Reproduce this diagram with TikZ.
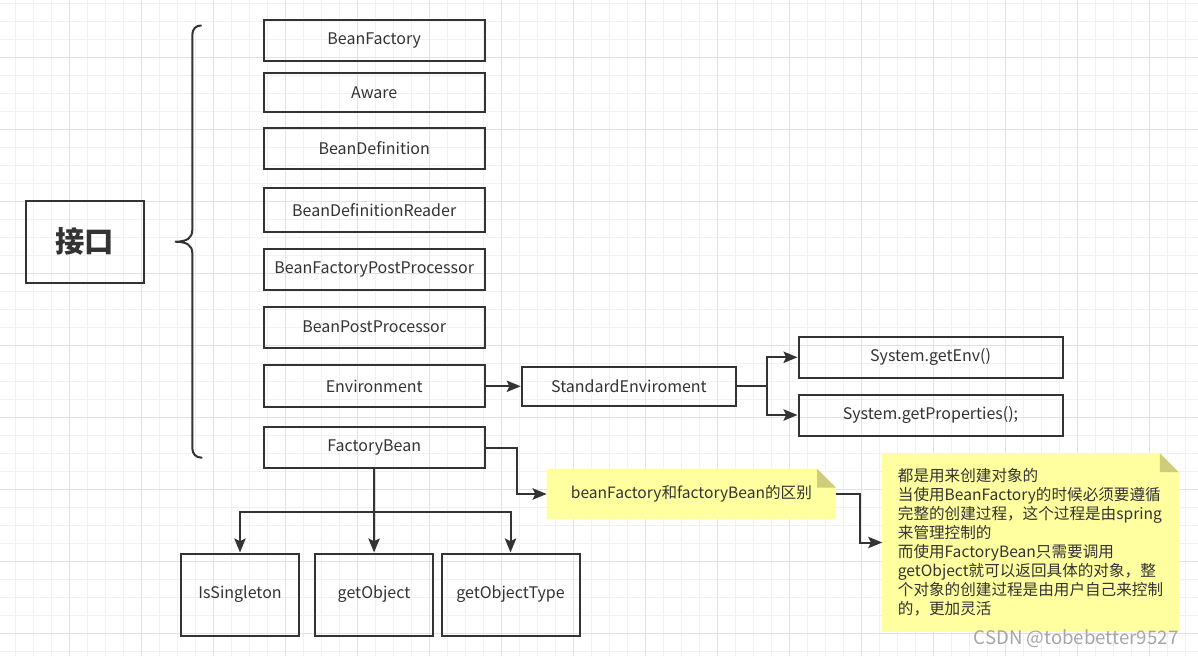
\documentclass[tikz,border=0pt]{standalone}
\usepackage{fontspec}
\setmainfont{Noto Sans CJK SC}
\usetikzlibrary{positioning,arrows.meta,backgrounds}
\newdimen\pxu \pxu=0.75pt
\definecolor{ink}{RGB}{51,51,51}
\definecolor{gridminor}{RGB}{241,241,241}
\definecolor{gridmajor}{RGB}{226,226,226}
\definecolor{notefill}{RGB}{255,255,160}
\definecolor{notefold}{RGB}{206,206,122}

\begin{document}
\begin{tikzpicture}[
        x=0.75pt, y=-0.75pt,
        box/.style={rectangle, draw=ink, line width=1.5pt, text=ink, minimum width=221\pxu, minimum height=41\pxu, align=center, font=\fontsize{12}{14}\selectfont},
        title/.style={box, minimum width=118\pxu, minimum height=82\pxu, font=\fontsize{22}{26}\selectfont\bfseries},
        leaf/.style={box, minimum width=118\pxu, minimum height=82\pxu},
        memo/.style={rectangle, text=ink, align=left, font=\fontsize{11.7}{14.3}\selectfont},
        arr/.style={-{Stealth[length=10.5pt, width=8.5pt, inset=2pt]}, line width=1.5pt, draw=ink},
        brace/.style={line width=1.5pt, draw=ink, line cap=round},
        gridthin/.style={draw=gridminor, line width=0.75pt},
        gridthick/.style={draw=gridmajor, line width=0.75pt},
        wmark/.style={text=black!35, font=\fontsize{14}{16}\selectfont},
    ]
    \useasboundingbox (0,0) rectangle (1198,656);

    % === Paper grid ===
    \begin{scope}[on background layer]
        \fill[white] (0,0) rectangle (1198,656);
        \foreach \gx in {15.3,33.3,...,1186} \draw[gridthin] (\gx,0) -- (\gx,656);
        \foreach \gy in {3.3,21.3,...,652} \draw[gridthin] (0,\gy) -- (1198,\gy);
        \foreach \gx in {69.3,141.3,...,1150} \draw[gridthick] (\gx,0) -- (\gx,656);
        \foreach \gy in {57.3,129.3,...,634} \draw[gridthick] (0,\gy) -- (1198,\gy);
    \end{scope}

    % === Interfaces ===
    \node[title] (iface) at (84.9,241.8) {接口};

    \draw[brace] (201,25.5) .. controls (196,25.5) and (192.3,29) .. (192.3,35)
        -- (192.3,230) .. controls (192.3,238) and (187,241.7) .. (175,241.7)
        .. controls (187,241.7) and (192.3,245.5) .. (192.3,253)
        -- (192.3,448) .. controls (192.3,454) and (196,457.7) .. (201.7,457.7);

    \node[box] (bf) at (374.2,40.5) {BeanFactory};
    \node[box, minimum height=39\pxu] (aware) at (374.2,92.5) {Aware};
    \node[box] (bdef) at (374.2,148.5) {BeanDefinition};
    \node[box, minimum height=44.5\pxu] (bdr) at (374.2,210) {BeanDefinitionReader};
    \node[box] (bfpp) at (374.2,269.5) {BeanFactoryPostProcessor};
    \node[box] (bpp) at (374.2,327.2) {BeanPostProcessor};
    \node[box, minimum height=42\pxu] (env) at (374.2,386.3) {Environment};
    \node[box, minimum height=40.5\pxu] (fb) at (374.2,447.5) {FactoryBean};

    % === Environment ===
    \node[box, minimum width=214.5\pxu, minimum height=38.5\pxu, right=35\pxu of env] (stdenv) {StandardEnviroment};
    \node[box, minimum width=264\pxu] (getenv) at (930.5,357.3) {System.getEnv()};
    \node[box, minimum width=264\pxu] (getprops) at (930.5,415) {System.getProperties();};

    \draw[arr] (env) -- (stdenv);
    \draw[arr] (stdenv.east) -- ++(29.5,0) |- (getenv.west);
    \draw[arr] (stdenv.east) -- ++(29.5,0) |- (getprops.west);

    % === FactoryBean ===
    \node[leaf] (getobj) at (374,594.5) {getObject};
    \node[leaf] (single) at (240,594.5) {IsSingleton};
    \node[leaf, minimum width=138\pxu, right=6.5\pxu of getobj] (gettype) {getObjectType};

    \draw[arr] (fb) -- (getobj);
    \draw[arr] (fb.south) -- ++(0,43.5) -| (single.north);
    \draw[arr] (fb.south) -- ++(0,43.5) -| (gettype.north);

    % === Notes ===
    \node[memo, minimum width=289\pxu, minimum height=50\pxu] (diff) at (691.4,494) {beanFactory和factoryBean的区别};
    \node[memo, minimum width=296\pxu, minimum height=178\pxu] (note) at (1030.5,542.5) {都是用来创建对象的\\当使用BeanFactory的时候必须要遵循\\完整的创建过程，这个过程是由spring\\来管理控制的\\而使用FactoryBean只需要调用\\getObject就可以返回具体的对象，整\\个对象的创建过程是由用户自己来控制\\的，更加灵活};

    \begin{scope}[on background layer]
        \foreach \n in {diff,note} {
            \fill[notefill] (\n.north west) -- ([xshift=-19\pxu]\n.north east) -- ([yshift=-19\pxu]\n.north east) -- (\n.south east) -- (\n.south west) -- cycle;
            \fill[notefold] ([xshift=-19\pxu]\n.north east) -- ([yshift=-19\pxu]\n.north east) -- ([xshift=-19\pxu, yshift=-19\pxu]\n.north east) -- cycle;
        }
    \end{scope}

    \draw[arr] (fb.east) -- ++(31.6,0) |- (diff.west);
    \draw[arr] (diff.east) -- ++(24,0) |- (note.west);

    \node[wmark] (wm) at (1076,639) {CSDN @tobebetter9527};

\end{tikzpicture}
\end{document}
